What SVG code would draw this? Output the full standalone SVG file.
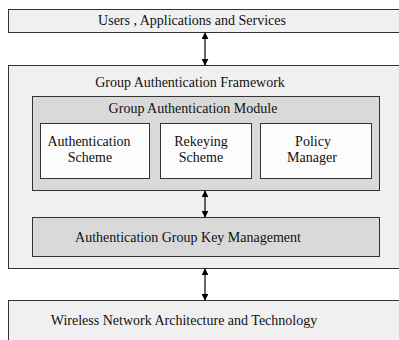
<svg xmlns="http://www.w3.org/2000/svg" width="399" height="340" viewBox="0 0 399 340">
<style>
text{font-family:'Liberation Serif','DejaVu Serif',serif;font-size:14px;fill:#111;text-anchor:middle}
.light{fill:#f0f0f0;stroke:#333;stroke-width:1}
.mid{fill:#d9d9d9;stroke:#333;stroke-width:1}
.white{fill:#fcfcfc;stroke:#333;stroke-width:1}
.conn{stroke:#000;stroke-width:1.2;fill:none;marker-start:url(#ah);marker-end:url(#ah)}
</style>
<defs>
<marker id="ah" viewBox="0 0 10 10" refX="9" refY="5" markerWidth="7" markerHeight="7" markerUnits="userSpaceOnUse" orient="auto-start-reverse">
<path d="M0,0 L10,5 L0,10 z" fill="#000"/>
</marker>
</defs>
<rect width="399" height="340" fill="#ffffff"/>
<g id="users">
<rect class="light" x="8.5" y="9.5" width="400" height="23"/>
<text x="192" y="25">Users , Applications and Services</text>
</g>
<g id="framework">
<rect class="light" x="8.5" y="65.5" width="400" height="203"/>
<text x="190" y="87">Group Authentication Framework</text>
</g>
<g id="module">
<rect class="mid" x="32.5" y="96.5" width="347" height="94"/>
<text x="193" y="113">Group Authentication Module</text>
</g>
<g id="authScheme">
<rect class="white" x="40.5" y="123.5" width="109" height="55"/>
<text x="89" y="146">Authentication</text>
<text x="90" y="162">Scheme</text>
</g>
<g id="rekeying">
<rect class="white" x="160.5" y="123.5" width="91" height="55"/>
<text x="201" y="146">Rekeying</text>
<text x="201" y="162">Scheme</text>
</g>
<g id="policy">
<rect class="white" x="260.5" y="123.5" width="111" height="55"/>
<text x="313" y="146">Policy</text>
<text x="312" y="162">Manager</text>
</g>
<g id="agkm">
<rect class="mid" x="32.5" y="217.5" width="347" height="39"/>
<text x="188" y="242">Authentication Group Key Management</text>
</g>
<g id="wireless">
<rect class="light" x="8.5" y="300.5" width="400" height="50"/>
<text x="184" y="325">Wireless Network Architecture and Technology</text>
</g>
<g id="connectors">
<line class="conn" x1="205" y1="33" x2="205" y2="65"/>
<line class="conn" x1="205" y1="191" x2="205" y2="217"/>
<line class="conn" x1="205" y1="269" x2="205" y2="300"/>
</g>
</svg>
